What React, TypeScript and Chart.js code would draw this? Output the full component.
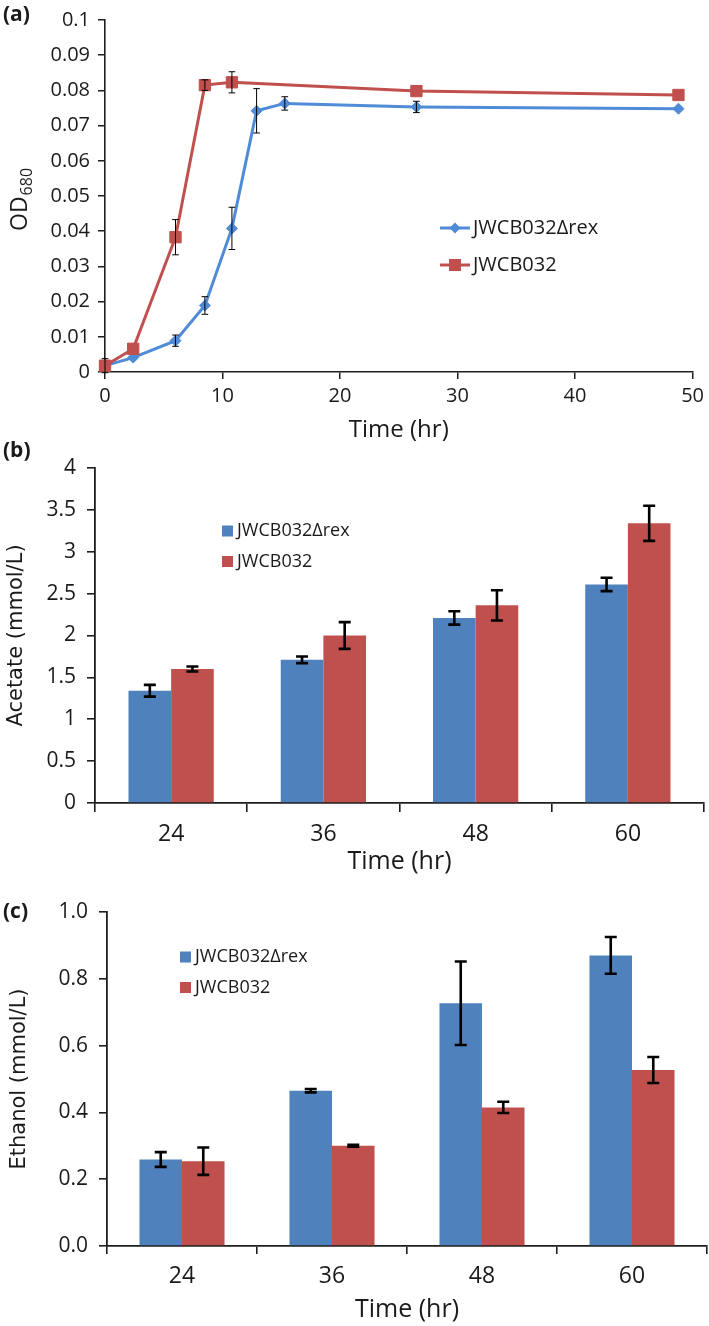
import React, { useEffect, useRef } from 'react';
import { Chart, registerables } from 'chart.js';
Chart.register(...registerables);

const FONT = "'Open Sans', 'DejaVu Sans', sans-serif";
const TITLE_FONT = "'DejaVu Sans', sans-serif";
const TEXT = '#1a1a1a';
const AXIS = '#1e1e1e';
const BLUE_LINE = '#4F8BD6';
const RED = '#C0504D';
const BLUE_BAR = '#4F81BD';

const SERIES_REX = 'JWCB032Δrex';
const SERIES_WT = 'JWCB032';

// Panel (a): OD680 growth curves
const timeRex = [0, 2.4, 6, 8.5, 10.8, 12.9, 15.3, 26.5, 48.8];
const odRex = [0.0018, 0.0041, 0.0089, 0.0189, 0.0408, 0.0742, 0.0763, 0.0753, 0.0748];
const odRexErr = [0, 0, 0.0016, 0.0025, 0.006, 0.0063, 0.0019, 0.0016, 0];
const timeWt = [0, 2.4, 6, 8.5, 10.8, 26.5, 48.8];
const odWt = [0.0018, 0.0066, 0.0383, 0.0815, 0.0823, 0.0798, 0.0787];
const odWtErr = [0.002, 0, 0.005, 0.0015, 0.003, 0, 0];

// Panel (b) and (c): categories
const timeCats = ['24', '36', '48', '60'];

const acetateRex = [1.34, 1.71, 2.21, 2.61];
const acetateRexErr = [0.07, 0.04, 0.08, 0.08];
const acetateWt = [1.6, 2.0, 2.36, 3.34];
const acetateWtErr = [0.03, 0.16, 0.18, 0.21];

const ethanolRex = [0.259, 0.465, 0.727, 0.87];
const ethanolRexErr = [0.022, 0.005, 0.125, 0.055];
const ethanolWt = [0.254, 0.3, 0.415, 0.527];
const ethanolWtErr = [0.041, 0.003, 0.017, 0.039];

const errorBarPlugin = (errs: number[][], lineW: number, capHalf: number) => ({
  id: 'errbars',
  afterDatasetsDraw(chart: any) {
    const ctx = chart.ctx;
    const ys = chart.scales.y;
    ctx.save();
    ctx.strokeStyle = '#000';
    ctx.lineWidth = lineW;
    chart.data.datasets.forEach((ds: any, i: number) => {
      const meta = chart.getDatasetMeta(i);
      const e = errs[i];
      meta.data.forEach((el: any, j: number) => {
        const err = e[j];
        if (!err) return;
        const raw = ds.data[j];
        const v = typeof raw === 'number' ? raw : raw.y;
        const x = el.x;
        const yt = ys.getPixelForValue(v + err);
        const yb = ys.getPixelForValue(v - err);
        ctx.beginPath();
        ctx.moveTo(x, yt);
        ctx.lineTo(x, yb);
        ctx.moveTo(x - capHalf, yt);
        ctx.lineTo(x + capHalf, yt);
        ctx.moveTo(x - capHalf, yb);
        ctx.lineTo(x + capHalf, yb);
        ctx.stroke();
      });
    });
    ctx.restore();
  },
});

const legendPlugin = (o: { x: number; y: number; gap: number; size: number; kind: string }) => ({
  id: 'customLegend',
  afterDraw(chart: any) {
    const ctx = chart.ctx;
    ctx.save();
    chart.data.datasets.forEach((ds: any, i: number) => {
      const cy = o.y + i * o.gap;
      const col = ds.borderColor || ds.backgroundColor;
      let tx = o.x;
      if (o.kind === 'line') {
        ctx.strokeStyle = col;
        ctx.lineWidth = 3;
        ctx.beginPath();
        ctx.moveTo(o.x, cy);
        ctx.lineTo(o.x + 30, cy);
        ctx.stroke();
        ctx.fillStyle = col;
        const cx = o.x + 15;
        if (ds.pointStyle === 'rectRot') {
          const r = 5.5;
          ctx.beginPath();
          ctx.moveTo(cx, cy - r);
          ctx.lineTo(cx + r, cy);
          ctx.lineTo(cx, cy + r);
          ctx.lineTo(cx - r, cy);
          ctx.closePath();
          ctx.fill();
        } else {
          ctx.fillRect(cx - 6, cy - 6, 12, 12);
        }
        tx = o.x + 33;
      } else {
        ctx.fillStyle = ds.backgroundColor;
        ctx.fillRect(o.x, cy - 5.5, 11, 11);
        tx = o.x + 15;
      }
      ctx.fillStyle = TEXT;
      ctx.font = `${o.size}px ${FONT}`;
      ctx.textAlign = 'left';
      ctx.textBaseline = 'middle';
      ctx.fillText(ds.label, tx, cy);
    });
    ctx.restore();
  },
});

const panelLabelPlugin = (text: string, x: number, y: number) => ({
  id: 'panelLabel',
  afterDraw(chart: any) {
    const ctx = chart.ctx;
    ctx.save();
    ctx.fillStyle = TEXT;
    ctx.font = `bold 21px ${FONT}`;
    ctx.textAlign = 'left';
    ctx.textBaseline = 'middle';
    ctx.fillText(text, x, y);
    ctx.restore();
  },
});

const odTitlePlugin = {
  id: 'odTitle',
  afterDraw(chart: any) {
    const ctx = chart.ctx;
    ctx.save();
    ctx.translate(20, 231);
    ctx.rotate(-Math.PI / 2);
    ctx.fillStyle = TEXT;
    ctx.textAlign = 'left';
    ctx.textBaseline = 'middle';
    ctx.font = `23px ${FONT}`;
    ctx.fillText('OD', 0, 0);
    const w = ctx.measureText('OD').width;
    ctx.font = `16px ${FONT}`;
    ctx.fillText('680', w + 1, 7);
    ctx.restore();
  },
};

const axisCommon = (tickLength: number) => ({
  grid: { drawOnChartArea: false, drawTicks: true, tickLength, color: AXIS, lineWidth: 1.5 },
  border: { display: true, color: AXIS, width: 1.6 },
});

function configA(): any {
  return {
    type: 'line',
    data: {
      datasets: [
        {
          label: SERIES_REX,
          data: timeRex.map((t, i) => ({ x: t, y: odRex[i] })),
          borderColor: BLUE_LINE,
          backgroundColor: BLUE_LINE,
          borderWidth: 3,
          pointStyle: 'rectRot',
          pointRadius: 5.5,
          pointBorderWidth: 1,
          tension: 0,
          clip: false,
          order: 1,
        },
        {
          label: SERIES_WT,
          data: timeWt.map((t, i) => ({ x: t, y: odWt[i] })),
          borderColor: RED,
          backgroundColor: RED,
          borderWidth: 3,
          pointStyle: 'rect',
          pointRadius: 8,
          pointBorderWidth: 1,
          tension: 0,
          clip: false,
          order: 0,
        },
      ],
    },
    options: {
      animation: false,
      responsive: false,
      events: [],
      layout: { padding: { left: 0, right: 15, top: 7, bottom: 0 } },
      plugins: { legend: { display: false }, tooltip: { enabled: false } },
      scales: {
        x: {
          type: 'linear',
          min: 0,
          max: 50,
          ticks: { stepSize: 10, font: { family: FONT, size: 20 }, color: TEXT, padding: 5 },
          ...axisCommon(7),
          title: {
            display: true,
            text: 'Time (hr)',
            font: { family: FONT, size: 24 },
            color: TEXT,
            padding: { top: 0, bottom: 3 },
          },
          afterFit: (s: any) => {
            s.height = 76;
          },
        },
        y: {
          min: 0,
          max: 0.1,
          ticks: {
            stepSize: 0.01,
            font: { family: FONT, size: 20 },
            color: TEXT,
            padding: 8,
            callback: (v: any) => String(+Number(v).toFixed(2)),
          },
          ...axisCommon(7),
          afterFit: (s: any) => {
            s.width = 105;
          },
        },
      },
    },
    plugins: [
      errorBarPlugin([odRexErr, odWtErr], 1, 3.3),
      legendPlugin({ x: 440, y: 228, gap: 37, size: 20, kind: 'line' }),
      panelLabelPlugin('(a)', 3, 15),
      odTitlePlugin,
    ],
  };
}

function barConfig(opts: {
  rex: number[];
  rexErr: number[];
  wt: number[];
  wtErr: number[];
  yMax: number;
  step: number;
  fmt: (v: number) => string;
  yTitle: string;
  padTop: number;
  padRight: number;
  yWidth: number;
  xHeight: number;
  yTitlePad: number;
  xTickPad: number;
  xTitlePad: number;
  xTickLen: number;
  catPct: number;
  legend: { x: number; y: number };
  label: string;
  labelY: number;
}): any {
  return {
    type: 'bar',
    data: {
      labels: timeCats,
      datasets: [
        { label: SERIES_REX, data: opts.rex, backgroundColor: BLUE_BAR, borderWidth: 0 },
        { label: SERIES_WT, data: opts.wt, backgroundColor: RED, borderWidth: 0 },
      ],
    },
    options: {
      animation: false,
      responsive: false,
      events: [],
      layout: { padding: { left: 0, right: opts.padRight, top: opts.padTop, bottom: 0 } },
      plugins: { legend: { display: false }, tooltip: { enabled: false } },
      datasets: { bar: { categoryPercentage: opts.catPct, barPercentage: 1 } },
      scales: {
        x: {
          ticks: { font: { family: FONT, size: 23 }, color: TEXT, padding: opts.xTickPad },
          border: { display: true, color: AXIS, width: 1.8 },
          grid: {
            drawOnChartArea: false,
            drawTicks: true,
            tickLength: opts.xTickLen,
            color: AXIS,
            lineWidth: 1.6,
            offset: true,
          },
          title: {
            display: true,
            text: 'Time (hr)',
            font: { family: FONT, size: 25 },
            color: TEXT,
            padding: { top: 0, bottom: opts.xTitlePad },
          },
          afterFit: (s: any) => {
            s.height = opts.xHeight;
          },
        },
        y: {
          min: 0,
          max: opts.yMax,
          ticks: {
            stepSize: opts.step,
            font: { family: FONT, size: 21 },
            color: TEXT,
            padding: 11,
            callback: (v: any) => opts.fmt(Number(v)),
          },
          grid: { drawOnChartArea: false, drawTicks: true, tickLength: 8, color: AXIS, lineWidth: 1.6 },
          border: { display: true, color: AXIS, width: 1.8 },
          title: {
            display: true,
            text: opts.yTitle,
            font: { family: TITLE_FONT, size: 21 },
            color: TEXT,
            padding: { top: opts.yTitlePad, bottom: 0 },
          },
          afterFit: (s: any) => {
            s.width = opts.yWidth;
          },
        },
      },
    },
    plugins: [
      errorBarPlugin([opts.rexErr, opts.wtErr], 2.6, 6),
      legendPlugin({ x: opts.legend.x, y: opts.legend.y, gap: 30.5, size: 18, kind: 'box' }),
      panelLabelPlugin(opts.label, 3, opts.labelY),
    ],
  };
}

function configB(): any {
  return barConfig({
    rex: acetateRex,
    rexErr: acetateRexErr,
    wt: acetateWt,
    wtErr: acetateWtErr,
    yMax: 4,
    step: 0.5,
    fmt: (v) => String(+v.toFixed(1)),
    yTitle: 'Acetate (mmol/L)',
    padTop: 28,
    padRight: 5,
    yWidth: 95,
    xHeight: 77,
    yTitlePad: 4,
    xTickPad: 9,
    xTitlePad: 3,
    xTickLen: 9,
    catPct: 0.56,
    legend: { x: 222, y: 91 },
    label: '(b)',
    labelY: 11,
  });
}

function configC(): any {
  return barConfig({
    rex: ethanolRex,
    rexErr: ethanolRexErr,
    wt: ethanolWt,
    wtErr: ethanolWtErr,
    yMax: 1,
    step: 0.2,
    fmt: (v) => v.toFixed(1),
    yTitle: 'Ethanol (mmol/L)',
    padTop: 32,
    padRight: 2,
    yWidth: 107,
    xHeight: 80,
    yTitlePad: 7,
    xTickPad: 9,
    xTitlePad: 1,
    xTickLen: 8,
    catPct: 0.567,
    legend: { x: 180, y: 77 },
    label: '(c)',
    labelY: 32,
  });
}

export default function App() {
  const a = useRef<HTMLCanvasElement>(null);
  const b = useRef<HTMLCanvasElement>(null);
  const c = useRef<HTMLCanvasElement>(null);

  useEffect(() => {
    const charts = [
      new Chart(a.current as HTMLCanvasElement, configA()),
      new Chart(b.current as HTMLCanvasElement, configB()),
      new Chart(c.current as HTMLCanvasElement, configC()),
    ];
    return () => charts.forEach((ch) => ch.destroy());
  }, []);

  return (
    <div style={{ position: 'absolute', left: 0, top: 0, width: 709, height: 1326, background: '#fff' }}>
      <canvas
        ref={a}
        width={709}
        height={448}
        style={{ position: 'absolute', left: 0, top: 0, width: 709, height: 448 }}
      />
      <canvas
        ref={b}
        width={709}
        height={440}
        style={{ position: 'absolute', left: 0, top: 440, width: 709, height: 440 }}
      />
      <canvas
        ref={c}
        width={709}
        height={446}
        style={{ position: 'absolute', left: 0, top: 880, width: 709, height: 446 }}
      />
    </div>
  );
}
